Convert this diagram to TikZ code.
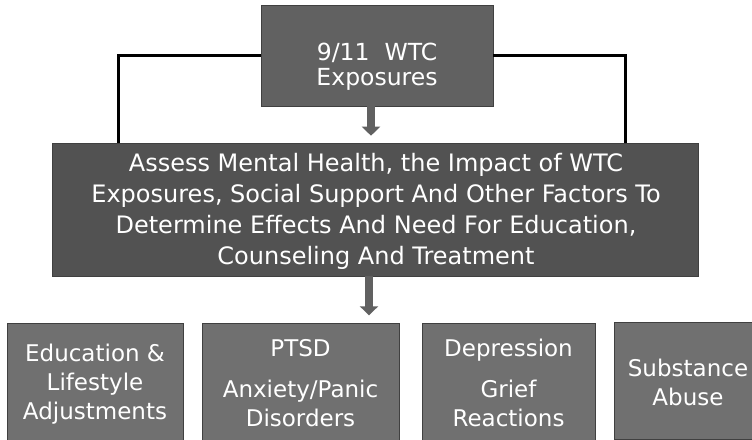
\documentclass[tikz,border=0pt]{standalone}
\usepackage{fontspec}
\setmainfont{DejaVu Sans}
\usetikzlibrary{arrows.meta,calc}
\begin{document}
\begin{tikzpicture}[x=1pt,y=-1pt,
  box/.style={rectangle, inner sep=0pt, draw=black!75, line width=0.6pt},
  lbl/.style={text=white, align=center, inner sep=0pt, font=\fontsize{23}{29}\selectfont},
  conn/.style={draw=black, line width=3pt},
  blockarrow/.style={draw=black!62, line width=8pt, -{Triangle[width=18pt,length=9pt]}}]
\useasboundingbox (0,0) rectangle (752,439);
% boxes
\node[box, fill=black!62, minimum width=232pt, minimum height=101pt] (top) at (377,55.5) {};
\node[lbl, font=\fontsize{23.5}{25}\selectfont] (toptext) at (377,67) {9/11\ \ WTC\\Exposures};
\node[box, fill=black!68, minimum width=646pt, minimum height=133pt] (main) at (375,209.5) {};
\node[lbl, font=\fontsize{24}{31}\selectfont] (maintext) at (376,211) {Assess Mental Health, the Impact of WTC\\Exposures, Social Support And Other Factors To\\Determine Effects And Need For Education,\\Counseling And Treatment};
\node[box, fill=black!56, minimum width=176pt, minimum height=117pt] (b1) at (95,381.5) {};
\node[lbl] (b1t) at (95,384) {Education \&\\Lifestyle\\Adjustments};
\node[box, fill=black!56, minimum width=197pt, minimum height=117pt] (b2) at (300.5,381.5) {};
\node[lbl] (b2t) at (300.5,383) {PTSD\\[12pt]Anxiety/Panic\\Disorders};
\node[box, fill=black!56, minimum width=173pt, minimum height=117pt] (b3) at (508.5,381.5) {};
\node[lbl] (b3t) at (508.5,383) {Depression\\[12pt]Grief\\Reactions};
\node[box, fill=black!56, minimum width=146pt, minimum height=117pt] (b4) at (687,380.5) {};
\node[lbl] (b4t) at (688,382) {Substance\\Abuse};
% connectors
\draw[conn] (top.west) -| ([xshift=67pt]main.north west);
\draw[conn] (top.east) -| ([xshift=-73pt]main.north east);
\coordinate (a1end) at ([xshift=-4pt,yshift=7pt]main.north);
\draw[blockarrow] ([xshift=-6pt]top.south) -- (a1end);
\coordinate (a2end) at ([xshift=-6pt,yshift=-39pt]main.south);
\draw[blockarrow] ([xshift=-6pt]main.south) -- (a2end);
\end{tikzpicture}
\end{document}
